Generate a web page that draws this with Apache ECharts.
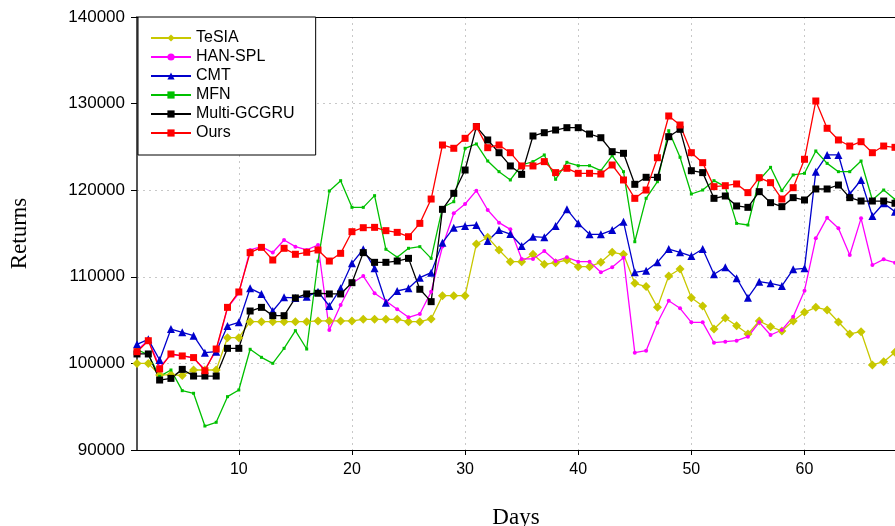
<!DOCTYPE html>
<html>
<head>
<meta charset="utf-8">
<script src="https://cdn.jsdelivr.net/npm/echarts@6/dist/echarts.min.js"></script>
<style>html,body{margin:0;padding:0;background:#fff}#c{width:895px;height:526px}</style>
</head>
<body>
<div id="c"></div>
<script>
const days = [1,2,3,4,5,6,7,8,9,10,11,12,13,14,15,16,17,18,19,20,21,22,23,24,25,26,27,28,29,30,31,32,33,34,35,36,37,38,39,40,41,42,43,44,45,46,47,48,49,50,51,52,53,54,55,56,57,58,59,60,61,62,63,64,65,66,67,68];
const xTicks = [10,20,30,40,50,60];
const tesia = [100000,100000,98650,98700,98600,99240,99240,99240,102970,102970,104820,104820,104820,104820,104820,104820,104900,104900,104900,104900,105090,105090,105090,105090,104820,104820,105130,107820,107820,107820,113790,114560,113100,111750,111750,112600,111440,111630,111940,111170,111170,111670,112830,112600,109250,108870,106470,110090,110900,107590,106630,103970,105240,104350,103400,104900,104240,103740,104900,105900,106470,106170,104780,103400,103660,99820,100200,101280];
const hanspl = [101500,102700,99600,101000,100900,100600,99300,101500,106400,108100,113100,113480,112800,114250,113480,113100,113670,103860,106750,109250,110090,108100,107210,106250,105320,105710,108280,113500,117330,118410,119950,117710,116250,115480,112060,112060,112980,111820,112250,111750,111750,110520,111100,112210,101240,101470,104700,107240,106360,104740,104740,102390,102510,102620,103080,104740,103280,103860,105400,108400,114440,116830,115600,112520,116750,111360,112020,111630];
const cmt = [102200,102780,100390,103970,103590,103200,101240,101350,104320,104740,108670,108020,106050,107630,107560,107700,108280,106630,108670,111560,113180,110980,107010,108360,108670,109900,110480,113940,115670,115870,115980,114130,115400,114940,113560,114630,114560,115870,117790,116170,114910,114910,115400,116360,110520,110710,111670,113210,112830,112400,113210,110290,111100,109830,107590,109440,109250,108940,110860,110980,122140,124070,124070,119560,121180,117020,118490,117520];
const mfn = [101600,101000,98500,99240,96850,96550,92770,93200,96160,96930,101630,100700,100010,101740,103780,101660,111800,119910,121100,118020,118020,119370,113180,112250,113290,113480,112130,118000,118670,124840,125340,123370,122140,121180,122910,123300,124070,121260,123220,122830,122830,122250,123990,122140,114050,119060,120980,126870,123800,119560,120020,121100,120410,116170,115980,121180,122640,119950,121760,121950,124530,123100,122140,122140,123370,118870,120020,118940];
const gcgru = [101090,101090,98080,98270,99310,98540,98540,98540,101740,101740,106050,106470,105510,105510,107560,108020,108100,108020,108020,109320,112790,111670,111670,111820,112130,108560,107130,117790,119640,122330,127340,125800,124330,122800,121830,126260,126640,126950,127220,127220,126490,126060,124450,124260,120680,121490,121490,126180,127030,122250,122030,119060,119330,118180,118020,119830,118560,118100,119140,118870,120140,120140,120600,119140,118750,118750,118750,118490];
const ours = [101350,102620,99360,101090,100860,100670,99160,101660,106470,108250,112790,113400,111940,113290,112600,112830,113100,111820,112710,115210,115670,115710,115330,115130,114630,116170,118980,125220,124840,125990,127340,124910,125220,124330,122800,122800,123300,122030,122530,121950,121950,121870,122910,121180,119060,120020,123750,128570,127530,124330,123180,120410,120520,120720,119720,121450,120870,118980,120290,123570,130300,127150,125800,125100,125600,124330,125100,124950];

const pair = arr => days.map((d, i) => [d, arr[i]]);
const mk = (name, arr, color, symbol, size) => ({
  name, type: 'line', data: pair(arr), symbol, symbolSize: size,
  lineStyle: { color, width: 1.3 }, itemStyle: { color },
  emphasis: { disabled: true }, animation: false
});

const chart = echarts.init(document.getElementById('c'), null, { renderer: 'canvas' });
chart.setOption({
  backgroundColor: '#fff',
  animation: false,
  grid: { left: 137, right: 0, top: 17, bottom: 76, containLabel: false, outerBoundsMode: 'none' },
  legend: {
    orient: 'vertical', left: 138, top: 17,
    padding: [13, 21, 14, 12],
    itemWidth: 40, itemHeight: 9, itemGap: 3,
    borderColor: '#000', borderWidth: 1, backgroundColor: '#fff',
    textStyle: { fontFamily: 'Liberation Sans, Arial', fontSize: 16, color: '#000' },
    data: ['TeSIA','HAN-SPL','CMT','MFN','Multi-GCGRU','Ours']
  },
  xAxis: [{
    type: 'value', min: 1, max: 68,
    name: 'Days', nameLocation: 'middle', nameGap: 56,
    nameTextStyle: { fontFamily: 'Liberation Serif, Times New Roman', fontSize: 23, color: '#000' },
    axisLine: { show: true, lineStyle: { color: '#000', width: 1 } },
    axisTick: { show: true, length: 5, lineStyle: { color: '#000' }, customValues: xTicks },
    axisLabel: { customValues: xTicks, margin: 12, fontFamily: 'Liberation Sans Narrow, Liberation Sans', fontSize: 16, color: '#000' },
    splitLine: { show: true, lineStyle: { color: '#c8c8c8', type: [2, 4], width: 1 } }
  }, {
    type: 'value', min: 1, max: 68, position: 'top',
    axisLine: { show: true, onZero: false, lineStyle: { color: '#000', width: 1 } },
    axisTick: { show: false }, axisLabel: { show: false }, splitLine: { show: false }
  }],
  yAxis: {
    type: 'value', min: 90000, max: 140000, interval: 10000,
    name: 'Returns', nameLocation: 'middle', nameGap: 106, nameRotate: 90,
    nameTextStyle: { fontFamily: 'Liberation Serif, Times New Roman', fontSize: 23, color: '#000' },
    axisLine: { show: true, lineStyle: { color: '#555', width: 2 } },
    axisTick: { show: true, length: 6, lineStyle: { color: '#000' } },
    axisLabel: { margin: 12, formatter: v => String(v), fontFamily: 'Liberation Sans, Arial', fontSize: 17, color: '#000' },
    splitLine: { show: true, lineStyle: { color: '#c8c8c8', type: [2, 4], width: 1 } }
  },
  series: [
    mk('TeSIA', tesia, '#C8C800', 'diamond', 9),
    mk('HAN-SPL', hanspl, '#FF00FF', 'circle', 4),
    mk('CMT', cmt, '#0000CC', 'triangle', 8),
    mk('MFN', mfn, '#00C000', 'rect', 3),
    mk('Multi-GCGRU', gcgru, '#000000', 'rect', 7),
    mk('Ours', ours, '#FF0000', 'rect', 7)
  ]
});
</script>
</body>
</html>
